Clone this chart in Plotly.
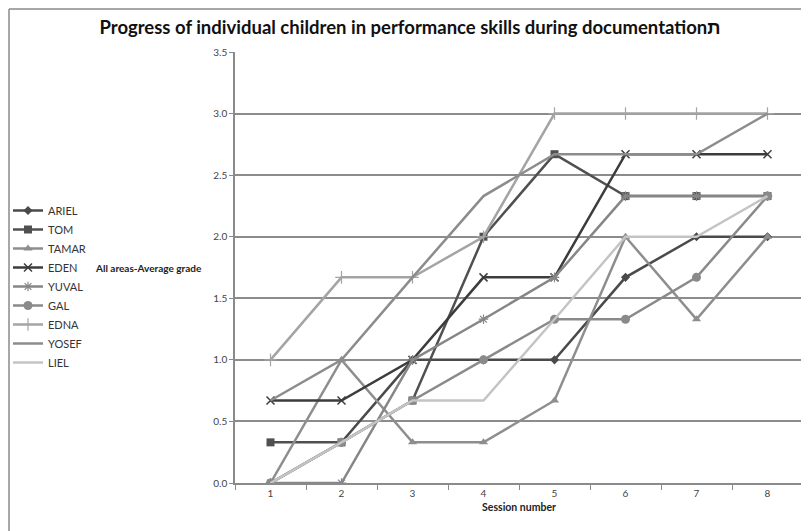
import plotly.graph_objects as go

sessions = [1, 2, 3, 4, 5, 6, 7, 8]
ariel = [0.0, 0.33, 1.0, 1.0, 1.0, 1.67, 2.0, 2.0]
tom = [0.33, 0.33, 0.67, 2.0, 2.67, 2.33, 2.33, 2.33]
tamar = [0.0, 1.0, 0.33, 0.33, 0.67, 2.0, 1.33, 2.0]
eden = [0.67, 0.67, 1.0, 1.67, 1.67, 2.67, 2.67, 2.67]
yuval = [0.0, 0.0, 1.0, 1.33, 1.67, 2.33, 2.33, 2.33]
gal = [0.0, 0.33, 0.67, 1.0, 1.33, 1.33, 1.67, 2.33]
edna = [1.0, 1.67, 1.67, 2.0, 3.0, 3.0, 3.0, 3.0]
yosef = [0.67, 1.0, 1.67, 2.33, 2.67, 2.67, 2.67, 3.0]
liel = [0.0, 0.33, 0.67, 0.67, 1.33, 2.0, 2.0, 2.33]
y_ticks = [0.0, 0.5, 1.0, 1.5, 2.0, 2.5, 3.0, 3.5]

series = [
    ("ARIEL", ariel, "#4a4a4a", dict(symbol="diamond", size=7)),
    ("TOM", tom, "#505050", dict(symbol="square", size=8)),
    ("TAMAR", tamar, "#8e8e8e", dict(symbol="triangle-up", size=8)),
    ("EDEN", eden, "#3c3c3c", dict(symbol="x-thin-open", size=8, line=dict(width=1.5, color="#3c3c3c"))),
    ("YUVAL", yuval, "#868686", dict(symbol="asterisk-open", size=8, line=dict(width=1.2, color="#868686"))),
    ("GAL", gal, "#8a8a8a", dict(symbol="circle", size=9)),
    ("EDNA", edna, "#a4a4a4", dict(symbol="cross-thin-open", size=9, line=dict(width=1.2, color="#a4a4a4"))),
    ("YOSEF", yosef, "#8c8c8c", None),
    ("LIEL", liel, "#c4c4c4", None),
]

# page body adds an 8px offset; layout numbers are in figure coordinates
L, T, R, B = 227, 44, 14, 56
W, H = 809, 531
PW, PH = W - L - R, H - T - B

fig = go.Figure()
for name, vals, col, mk in series:
    if mk is None:
        fig.add_trace(go.Scatter(x=sessions, y=vals, name=name, mode="lines",
                                 line=dict(color=col, width=2.5)))
    else:
        m = dict(mk)
        m.setdefault("color", col)
        fig.add_trace(go.Scatter(x=sessions, y=vals, name=name, mode="lines+markers",
                                 line=dict(color=col, width=2.5), marker=m))

fig.update_layout(
    width=W, height=H,
    margin=dict(l=L, r=R, t=T, b=B, autoexpand=False),
    paper_bgcolor="white", plot_bgcolor="white",
    font=dict(family="Lato, Carlito, Calibri, sans-serif", size=10, color="#333"),
    title=dict(text="<b>Progress of individual children in performance skills during documentationת</b>",
               x=402 / W, xanchor="center", y=1 - 20 / H, yanchor="middle",
               font=dict(size=18.5, color="#111")),
    showlegend=True,
    legend=dict(x=-L / PW, xanchor="left", y=(PH + T - 188) / PH, yanchor="top",
                font=dict(size=11, color="#333"), tracegroupgap=0,
                bgcolor="rgba(0,0,0,0)"),
    xaxis=dict(range=[0.5, 8.5], tickvals=sessions, ticktext=[str(s) for s in sessions],
               showgrid=False, showline=True, linecolor="#8a8a8a", linewidth=1.5,
               ticks="", tickfont=dict(size=10, color="#444"),
               minor=dict(tick0=0.5, dtick=1, ticks="outside", ticklen=5, tickcolor="#8a8a8a"),
               title=dict(text="<b>Session number</b>", font=dict(size=10.5, color="#222"), standoff=6),
               zeroline=False),
    yaxis=dict(range=[0, 3.5], tickvals=y_ticks, tickformat=".1f",
               showgrid=True, gridcolor="#8c8c8c", gridwidth=1.5,
               showline=True, linecolor="#8a8a8a", linewidth=1.5,
               ticks="outside", ticklen=4, tickcolor="#8a8a8a",
               tickfont=dict(size=10, color="#444"), zeroline=False),
    shapes=[
        dict(type="line", xref="paper", yref="paper",
             x0=(1 - L) / PW, x1=(796 - L) / PW, y0=(PH + T - 1) / PH, y1=(PH + T - 1) / PH,
             line=dict(color="#8a8a8a", width=1.5)),
        dict(type="line", xref="paper", yref="paper",
             x0=(1 - L) / PW, x1=(1 - L) / PW, y0=(PH + T - 1) / PH, y1=-B / PH,
             line=dict(color="#8a8a8a", width=1.5)),
    ],
    annotations=[dict(text="<b>All areas-Average grade</b>", xref="paper", yref="paper",
                      x=(140 - L) / PW, y=(PH + T - 260) / PH, xanchor="center", yanchor="middle",
                      showarrow=False, font=dict(size=10, color="#222"))],
)

fig.write_html("out.html")
